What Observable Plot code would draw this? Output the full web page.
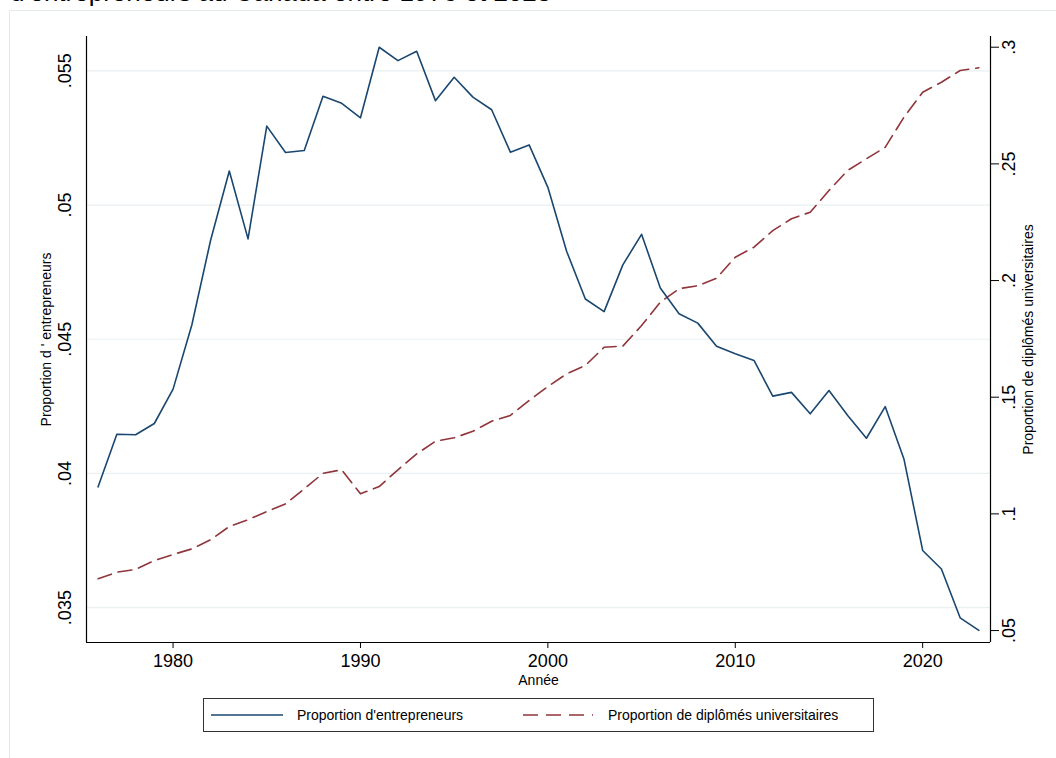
<!DOCTYPE html>
<html>
<head>
<meta charset="utf-8">
<script src="https://cdn.jsdelivr.net/npm/d3@7"></script>
<script src="https://cdn.jsdelivr.net/npm/@observablehq/plot@0.6"></script>
<style>
html, body { margin: 0; padding: 0; background: #fff; }
#wrap { position: relative; width: 1056px; height: 758px; overflow: hidden; font-family: "Liberation Sans", Arial, Helvetica, sans-serif; color: #000; }
#frame { position: absolute; left: 9px; top: 10px; width: 1100px; height: 800px; border: 1px solid #e3eaec; box-sizing: border-box; }
#title { position: absolute; left: 10px; top: -21px; font-size: 26px; line-height: 26px; white-space: nowrap; }
#chart { position: absolute; left: 0; top: 0; }
#legend { position: absolute; left: 203px; top: 698px; width: 671px; height: 34px; border: 1px solid #333; box-sizing: border-box; background: #fff; }
#legend .sw { position: absolute; top: 10px; }
#legend .lab { position: absolute; top: 0; line-height: 32px; font-size: 14px; white-space: nowrap; }
</style>
</head>
<body>
<div id="wrap">
  <div id="frame"></div>
  <div id="title">d'entrepreneurs au Canada entre 1976 et 2023</div>
  <div id="chart"></div>
  <div id="legend">
    <svg class="sw" style="left:7px" width="72" height="12"><line x1="0" y1="6" x2="72" y2="6" stroke="#1a476f" stroke-width="1.6"/></svg>
    <div class="lab" style="left:93px">Proportion d'entrepreneurs</div>
    <svg class="sw" style="left:319px" width="70" height="12"><line x1="0" y1="6" x2="70" y2="6" stroke="#90353b" stroke-width="1.6" stroke-dasharray="15,8"/></svg>
    <div class="lab" style="left:404px">Proportion de diplômés universitaires</div>
  </div>
</div>
<script>
// ---- Data ----
const years = [1976,1977,1978,1979,1980,1981,1982,1983,1984,1985,1986,1987,1988,1989,1990,1991,1992,1993,1994,1995,1996,1997,1998,1999,2000,2001,2002,2003,2004,2005,2006,2007,2008,2009,2010,2011,2012,2013,2014,2015,2016,2017,2018,2019,2020,2021,2022,2023];
const entrepreneurs = [0.0395,0.04146,0.04144,0.04186,0.04314,0.04553,0.04868,0.05127,0.04874,0.05294,0.05196,0.05203,0.05405,0.05379,0.05325,0.05588,0.05538,0.05573,0.05389,0.05476,0.05402,0.05355,0.05197,0.05224,0.05066,0.04828,0.04650,0.04603,0.04777,0.04891,0.04691,0.04595,0.04560,0.04474,0.04446,0.04421,0.04288,0.04302,0.04222,0.04309,0.04216,0.04131,0.04249,0.04054,0.03713,0.03644,0.03462,0.03415];
const diplomes = [0.0722,0.0750,0.0762,0.0800,0.0826,0.0850,0.0889,0.0946,0.0975,0.1010,0.1043,0.1107,0.1174,0.1189,0.1086,0.1117,0.1189,0.1257,0.1311,0.1326,0.1354,0.1397,0.1422,0.1486,0.1546,0.1600,0.1636,0.1714,0.1719,0.1807,0.1907,0.1965,0.1978,0.2010,0.2100,0.2143,0.2214,0.2265,0.2293,0.2386,0.2472,0.2522,0.2571,0.2700,0.2807,0.2850,0.2900,0.2912];
const xTicks = [1980, 1990, 2000, 2010, 2020];
const leftTicks = [0.035, 0.04, 0.045, 0.05, 0.055];
const rightTicks = [0.05, 0.1, 0.15, 0.2, 0.25, 0.3];
const xDomain = [1975.38, 2023.62];
const leftDomain = [0.0337, 0.05628];
const rightDomain = [0.04488, 0.30459];
const xLabel = "Année";
const leftLabel = "Proportion d ' entrepreneurs";
const rightLabel = "Proportion de diplômés universitaires";

// ---- Build ----
const toLeft = g => leftDomain[0] + (g - rightDomain[0]) * (leftDomain[1] - leftDomain[0]) / (rightDomain[1] - rightDomain[0]);
const fmt = d => String(d).replace(/^0\./, ".");
const entData = years.map((y, i) => ({year: y, v: entrepreneurs[i]}));
const dipData = years.map((y, i) => ({year: y, v: toLeft(diplomes[i])}));
const rightTickData = rightTicks.map(g => ({v: toLeft(g), label: fmt(g)}));

const blue = "#1a476f", red = "#90353b";
const mid = {textAnchor: "middle", lineAnchor: "middle"};

const chart = Plot.plot({
  width: 1056,
  height: 758,
  marginLeft: 86,
  marginRight: 66,
  marginTop: 36,
  marginBottom: 116,
  style: {fontFamily: '"Liberation Sans", Arial, Helvetica, sans-serif', background: "transparent", color: "#000"},
  x: {domain: xDomain},
  y: {domain: leftDomain},
  marks: [
    Plot.gridY(leftTicks, {stroke: "#e8f0f2", strokeOpacity: 1, strokeWidth: 1.2}),
    Plot.axisX(xTicks, {tickSize: 6, tickPadding: 6, fontSize: 18, tickFormat: d => String(d), label: null}),
    Plot.axisY(rightTickData.map(d => d.v), {anchor: "right", tickSize: 8, tickFormat: () => "", label: null}),
    Plot.text(leftTicks, {y: d => d, text: fmt, frameAnchor: "left", dx: -21, rotate: -90, fontSize: 18, ...mid}),
    Plot.text(rightTickData, {y: "v", text: "label", frameAnchor: "right", dx: 19, rotate: -90, fontSize: 18, ...mid}),
    Plot.text([xLabel], {text: d => d, frameAnchor: "bottom", dy: 38, fontSize: 14, ...mid}),
    Plot.text([leftLabel], {text: d => d, frameAnchor: "left", dx: -40, rotate: -90, fontSize: 14, ...mid}),
    Plot.text([rightLabel], {text: d => d, frameAnchor: "right", dx: 38, rotate: -90, fontSize: 14, ...mid}),
    Plot.ruleX([xDomain[0], xDomain[1]], {stroke: "#000", strokeWidth: 1.2}),
    Plot.ruleY([leftDomain[0]], {stroke: "#000", strokeWidth: 1.2}),
    Plot.line(dipData, {x: "year", y: "v", stroke: red, strokeWidth: 1.6, strokeDasharray: "14,7"}),
    Plot.line(entData, {x: "year", y: "v", stroke: blue, strokeWidth: 1.6})
  ]
});
document.getElementById("chart").appendChild(chart);
</script>
</body>
</html>
